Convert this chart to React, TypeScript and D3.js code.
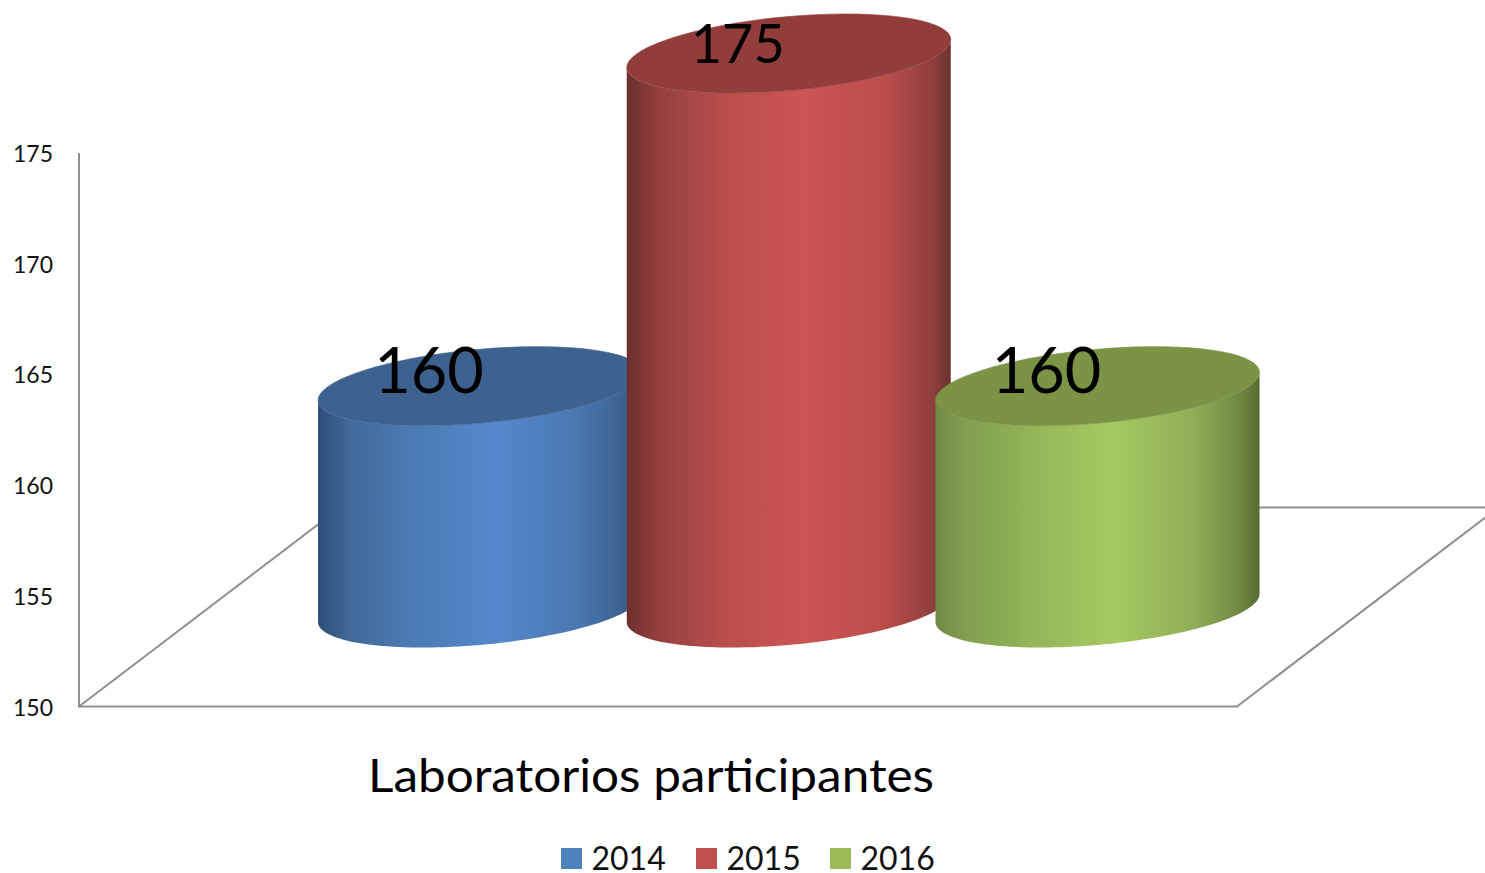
import React from "react";
import * as d3 from "d3";

const years = ["2014", "2015", "2016"];
const values = [160, 175, 160];
const axisTicks = [150, 155, 160, 165, 170, 175];
const axisTitle = "Laboratorios participantes";

const sideStops = [
  [
    [0, "#2f4f78"], [0.1, "#41699a"], [0.3, "#4c7cb5"], [0.55, "#5588cb"], [0.8, "#4a78b0"], [0.95, "#3c608d"], [1, "#35567f"],
  ],
  [
    [0, "#6b2f2e"], [0.1, "#94413f"], [0.3, "#b94f4c"], [0.55, "#cb5552"], [0.8, "#b94e4b"], [0.95, "#8c3f3d"], [1, "#6a3130"],
  ],
  [
    [0, "#6f8a45"], [0.1, "#82a04f"], [0.3, "#94b559"], [0.55, "#a6c961"], [0.8, "#8fad57"], [0.95, "#6d8540"], [1, "#566a30"],
  ],
];
const topFill = ["#3e628f", "#913d3a", "#7a9344"];
const legendFill = ["#4f81bd", "#c0504d", "#9bbb59"];
const labelFontSize = [63, 54, 63];

const WIDTH = 1485;
const HEIGHT = 873;
const RX = 162;
const RY = 37;
const SHEAR = 14;

// Column scale and the two projected value scales (back wall axis and column heights).
const xCenter = d3.scalePoint<string>().domain(years).range([480, 1097.5]);
const yAxis = d3.scaleLinear().domain([150, 175]).range([706.5, 153]);
const yColumn = d3.scaleLinear().domain([150, 175]).range([608, 53.5]);

// A point on the tilted ellipse that forms a column's cap or base.
const ellipsePoint = (cx: number, cy: number, t: number): [number, number] => [
  cx + RX * Math.cos(t),
  cy + RY * Math.sin(t) - SHEAR * Math.cos(t),
];

const line = d3.line();
const angles = (from: number, to: number) => d3.range(0, 73).map((i) => from + ((to - from) * i) / 72);

const capPath = (cx: number, cy: number) =>
  (line(angles(0, Math.PI * 2).map((t) => ellipsePoint(cx, cy, t))) ?? "") + "Z";

const sidePath = (cx: number, top: number, base: number) => {
  const lower = angles(0, Math.PI).map((t) => ellipsePoint(cx, base, t));
  const upper = angles(Math.PI, 0).map((t) => ellipsePoint(cx, top, t));
  return (line([...lower, ...upper]) ?? "") + "Z";
};

const FONT = "Lato, 'Open Sans', sans-serif";
const AXIS_COLOR = "#8f8f8f";
const legendSwatchX = [561, 696, 830];

export default function App() {
  return (
    <svg
      width={WIDTH}
      height={HEIGHT}
      viewBox={`0 0 ${WIDTH} ${HEIGHT}`}
      style={{ position: "absolute", left: 0, top: 0, background: "#fff" }}
      fontFamily={FONT}
    >
      <defs>
        {years.map((year, i) => (
          <linearGradient key={year} id={`side-${year}`} x1="0" x2="1" y1="0" y2="0">
            {sideStops[i].map(([offset, color]) => (
              <stop key={offset as number} offset={offset as number} stopColor={color as string} />
            ))}
          </linearGradient>
        ))}
      </defs>

      {/* Back wall axis and floor outline */}
      <g stroke={AXIS_COLOR} strokeWidth={2} fill="none">
        <path d={`M79,${yAxis(175)}V${yAxis(150)}H1237L1499,507`} />
        <path d={`M79,${yAxis(150)}L341,507`} />
        <path d="M1200,507.5H1485" />
      </g>

      {axisTicks.map((tick) => (
        <text key={tick} x={53} y={yAxis(tick) + 9} textAnchor="end" fontSize={23} fill="#111">
          {tick}
        </text>
      ))}

      {/* Cylindrical columns */}
      {years.map((year, i) => {
        const cx = xCenter(year) as number;
        const top = yColumn(values[i]);
        const base = yColumn(150);
        return (
          <g key={year}>
            <path d={sidePath(cx, top, base)} fill={`url(#side-${year})`} />
            <path d={capPath(cx, top)} fill={topFill[i]} stroke={topFill[i]} strokeWidth={0.6} />
          </g>
        );
      })}

      {/* Value labels sit above every column */}
      {years.map((year, i) => (
        <text
          key={year}
          x={(xCenter(year) as number) - 51}
          y={yColumn(values[i]) + (i === 1 ? 9.5 : 7)}
          textAnchor="middle"
          fontSize={labelFontSize[i]}
          fill="#000"
        >
          {values[i]}
        </text>
      ))}

      <text x={368} y={792} fontSize={46} fill="#000" textLength={566} lengthAdjust="spacingAndGlyphs">
        {axisTitle}
      </text>

      {years.map((year, i) => (
        <g key={year}>
          <rect x={legendSwatchX[i]} y={848} width={21} height={21} fill={legendFill[i]} />
          <text x={legendSwatchX[i] + 30.5} y={870} fontSize={32} fill="#111">
            {year}
          </text>
        </g>
      ))}
    </svg>
  );
}
